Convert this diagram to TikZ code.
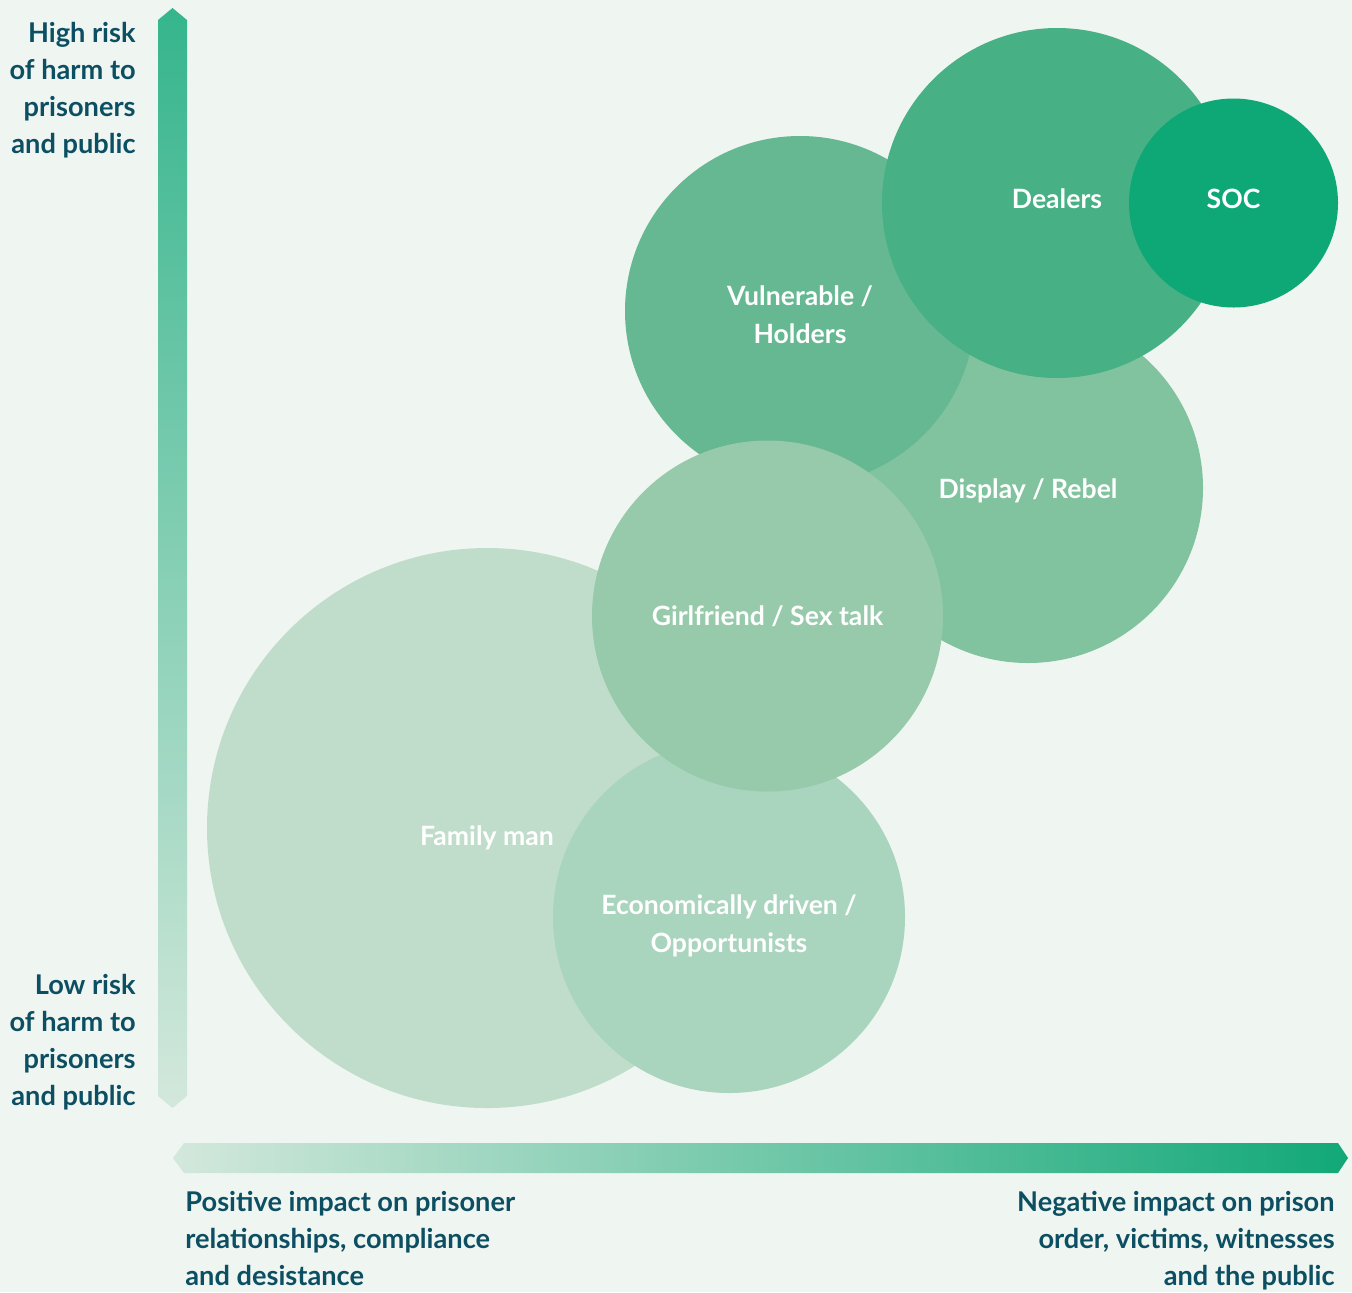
\documentclass[tikz,border=0pt]{standalone}
\usepackage{fontspec}
\setmainfont{Lato}
\definecolor{bgpale}{HTML}{EFF5F1}
\definecolor{inkteal}{HTML}{0D4F62}
\definecolor{famfill}{HTML}{C0DDCB}
\definecolor{econfill}{HTML}{A9D4BD}
\definecolor{girlfill}{HTML}{96CAAB}
\definecolor{dispfill}{HTML}{81C39F}
\definecolor{vulnfill}{HTML}{65B891}
\definecolor{dealfill}{HTML}{48B085}
\definecolor{socfill}{HTML}{0DA876}
\definecolor{axisdark}{HTML}{12A878}
\definecolor{axislight}{HTML}{D3E8DC}
\tikzset{
  bubble/.style={circle, inner sep=0pt},
  bubbletext/.style={inner sep=0pt, text=white, align=center,
    font=\bfseries\fontsize{13.3}{19}\selectfont},
  axislabel/.style={inner sep=0pt, text=inkteal,
    font=\bfseries\fontsize{13.6}{18.5}\selectfont}
}
\begin{document}
\begin{tikzpicture}[x=0.5pt,y=-0.5pt]
\fill[bgpale] (0,0) rectangle (1352,1292);
\useasboundingbox (0,0) rectangle (1352,1292);

% axes
\shade[top color=axisdark!85!white, bottom color=axislight]
  (158,20) -- (172.5,8) -- (187,20) -- (187,1096) -- (172.5,1108) -- (158,1096) -- cycle;
\shade[left color=axislight, right color=axisdark]
  (173,1158) -- (184,1143) -- (1338,1143) -- (1348,1158) -- (1338,1173) -- (184,1173) -- cycle;

\node[axislabel, anchor=north east, align=right] (highrisk) at (136,22)
  {High risk\\of harm to\\prisoners\\and public};
\node[axislabel, anchor=north east, align=right] (lowrisk) at (136,974)
  {Low risk\\of harm to\\prisoners\\and public};
\node[axislabel, anchor=north west, align=left] (positive) at (185,1191)
  {Positive impact on prisoner\\relationships, compliance\\and desistance};
\node[axislabel, anchor=north east, align=right] (negative) at (1335,1191)
  {Negative impact on prison\\order, victims, witnesses\\and the public};

% bubbles, back to front
\node[bubble, fill=famfill, minimum size=280pt,
  label={[bubbletext, yshift=-5pt]center:Family man}] (family) at (487,828) {};
\node[bubble, fill=econfill, minimum size=176pt,
  label={[bubbletext, yshift=-4.5pt]center:Economically driven /\\Opportunists}] (econ) at (729,917) {};
\node[bubble, fill=dispfill, minimum size=175pt,
  label={[bubbletext, yshift=-1.5pt]center:Display / Rebel}] (display) at (1028,488) {};
\node[bubble, fill=vulnfill, minimum size=175pt,
  label={[bubbletext, yshift=-2pt]center:Vulnerable /\\Holders}] (vuln) at (800,311) {};
\node[bubble, fill=girlfill, minimum size=175.5pt,
  label={[bubbletext]center:Girlfriend / Sex talk}] (girl) at (767.5,616) {};
\node[bubble, fill=dealfill, minimum size=175pt,
  label={[bubbletext, yshift=2pt]center:Dealers}] (dealers) at (1057,203) {};
\node[bubble, fill=socfill, minimum size=104.5pt,
  label={[bubbletext, yshift=2pt]center:SOC}] (soc) at (1233.5,203) {};
\end{tikzpicture}
\end{document}
